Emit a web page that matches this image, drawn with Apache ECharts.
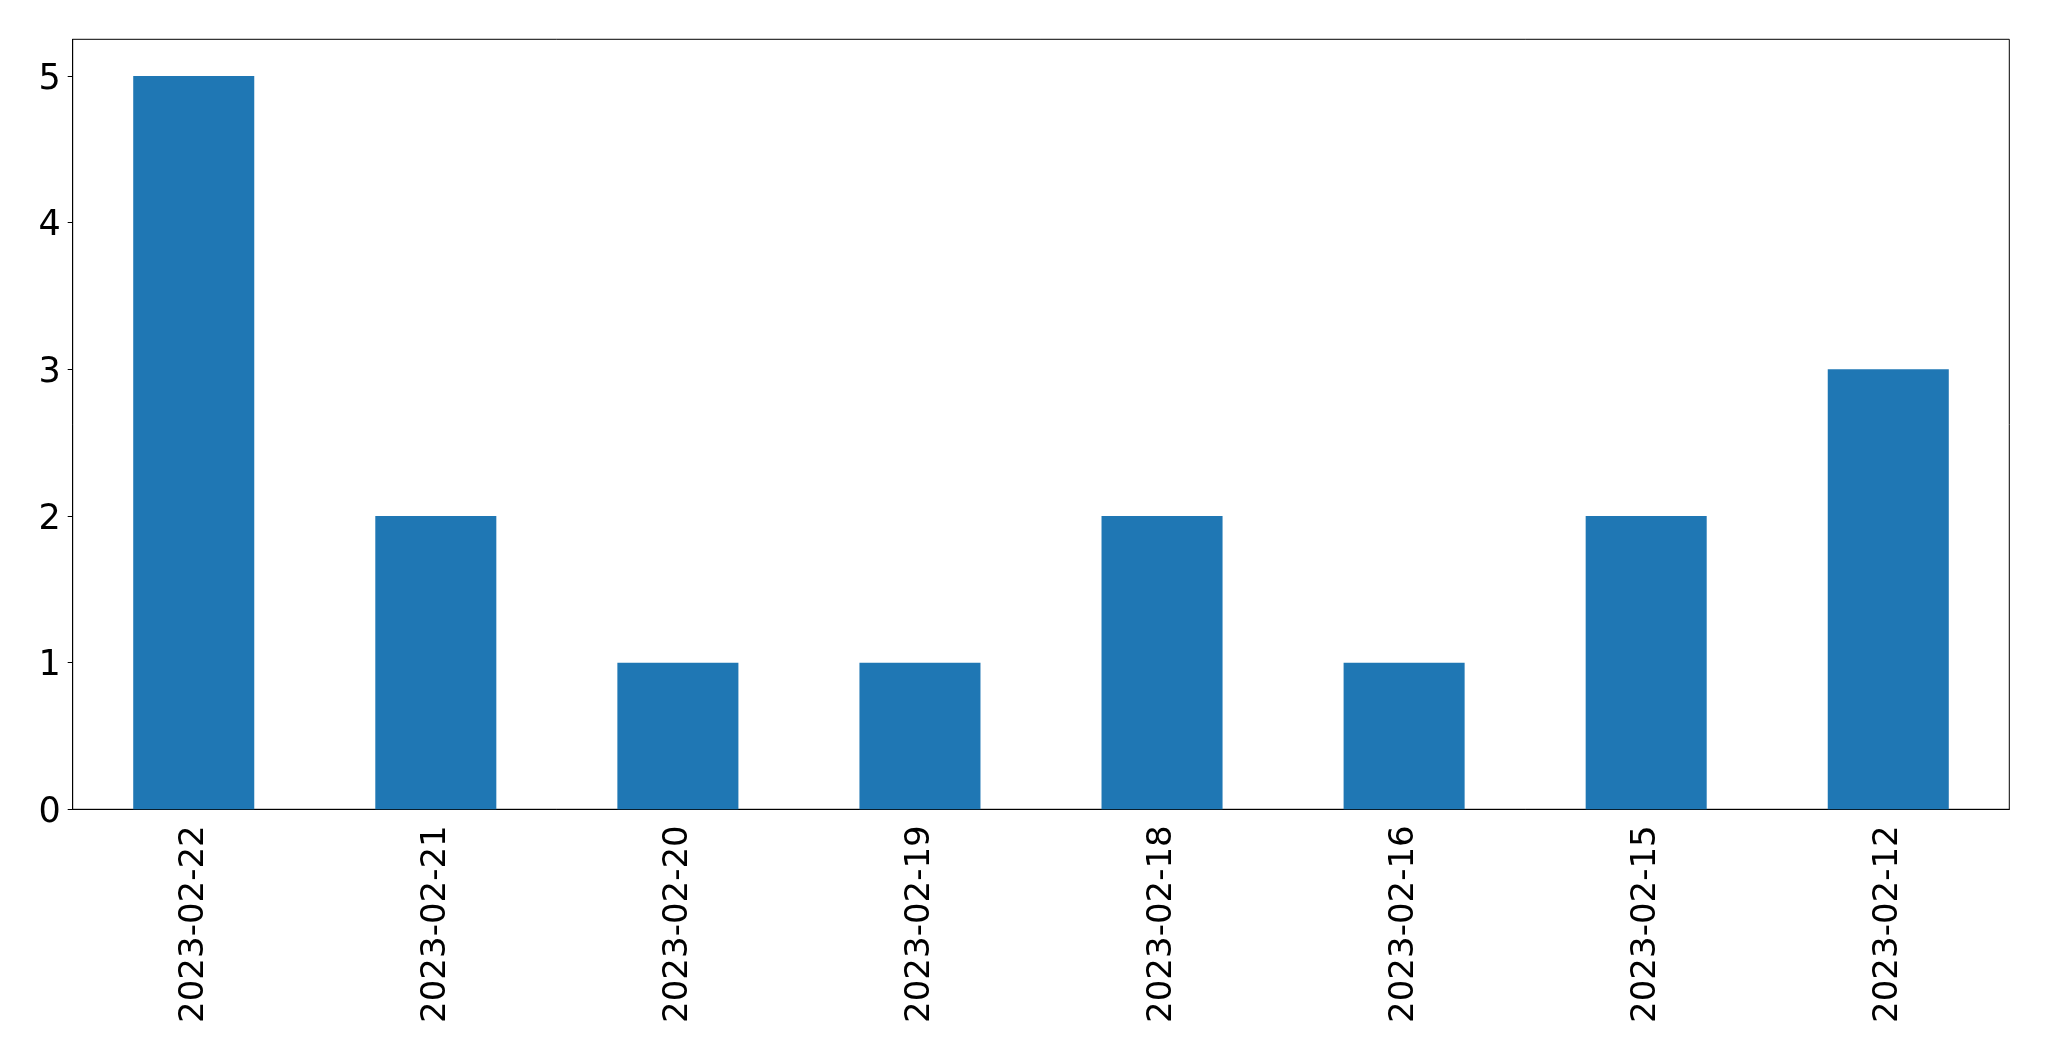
<!DOCTYPE html>
<html>
<head>
<meta charset="utf-8">
<script src="https://cdn.jsdelivr.net/npm/echarts@6/dist/echarts.min.js"></script>
<style>html,body{margin:0;padding:0;background:#fff;}#c{width:2049px;height:1061px;}</style>
</head>
<body>
<div id="c"></div>
<script>
const categories = ["2023-02-22","2023-02-21","2023-02-20","2023-02-19","2023-02-18","2023-02-16","2023-02-15","2023-02-12"];
const values = [5, 2, 1, 1, 2, 1, 2, 3];

const chart = echarts.init(document.getElementById('c'), null, {renderer: 'canvas'});
const font = 'DejaVu Sans';
chart.setOption({
  animation: false,
  backgroundColor: '#ffffff',
  grid: {left: 72.7, top: 39.3, right: 39.7, bottom: 251.7, show: true, borderColor: '#000', borderWidth: 1, backgroundColor: 'transparent'},
  xAxis: {
    type: 'category',
    data: categories,
    axisLine: {lineStyle: {color: '#000', width: 1}},
    axisTick: {alignWithLabel: true, length: 5, lineStyle: {color: '#000'}},
    axisLabel: {rotate: 90, color: '#000', fontFamily: font, fontSize: 34, margin: 16, interval: 0}
  },
  yAxis: {
    type: 'value',
    min: 0, max: 5.25, interval: 1,
    splitLine: {show: false},
    axisLine: {show: true, lineStyle: {color: '#000', width: 1}},
    axisTick: {show: true, length: 5, lineStyle: {color: '#000'}},
    axisLabel: {color: '#000', fontFamily: font, fontSize: 35, margin: 12,
      showMaxLabel: false,
      formatter: v => Number.isInteger(v) ? '{a|' + v + '}' : '',
      rich: {a: {fontFamily: font, fontSize: 35, color: '#000', padding: [7, 0, 0, 0]}}}
  },
  series: [{
    type: 'bar',
    data: values,
    barWidth: '50%',
    itemStyle: {color: '#1f77b4'}
  }]
});
</script>
</body>
</html>
